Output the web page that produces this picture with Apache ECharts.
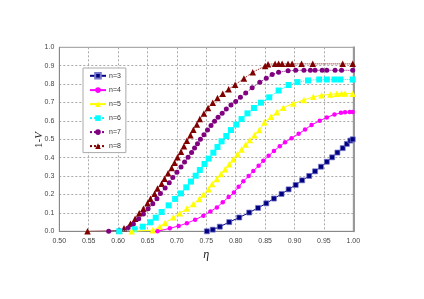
<!DOCTYPE html>
<html><head><meta charset="utf-8">
<script src="https://cdn.jsdelivr.net/npm/echarts@6/dist/echarts.min.js"></script>
<style>html,body{margin:0;padding:0;background:#fff}#c{width:424px;height:299px}</style>
</head><body><div id="c"></div>
<script>
const xTicks = ["0.50","0.55","0.60","0.65","0.70","0.75","0.80","0.85","0.90","0.95","1.00"];
const yTicks = ["0.0","0.1","0.2","0.3","0.4","0.5","0.6","0.7","0.8","0.9","1.0"];
const seriesNames = ["n=3","n=4","n=5","n=6","n=7","n=8"];

const eta3 = [0.751,0.761,0.773,0.789,0.806,0.823,0.838,0.852,0.865,0.878,0.890,0.902,0.913,0.925,0.935,0.945,0.955,0.964,0.973,0.982,0.989,0.995,0.999];
const v3   = [0,0.009,0.025,0.05,0.075,0.102,0.127,0.152,0.178,0.203,0.228,0.252,0.277,0.301,0.326,0.351,0.378,0.402,0.428,0.452,0.475,0.493,0.5];

const eta4 = [0.667,0.688,0.703,0.717,0.731,0.745,0.757,0.768,0.778,0.788,0.797,0.805,0.813,0.822,0.830,0.839,0.847,0.856,0.865,0.875,0.884,0.895,0.907,0.918,0.929,0.943,0.955,0.968,0.979,0.986,0.994,0.999];
const v4   = [0,0.016,0.029,0.044,0.063,0.085,0.108,0.13,0.158,0.186,0.211,0.242,0.272,0.30,0.328,0.356,0.383,0.41,0.437,0.462,0.484,0.506,0.53,0.553,0.578,0.601,0.619,0.635,0.644,0.647,0.648,0.648];

const eta5 = [0.623,0.659,0.671,0.680,0.694,0.705,0.717,0.728,0.738,0.745,0.754,0.760,0.768,0.775,0.782,0.789,0.796,0.803,0.810,0.817,0.824,0.832,0.840,0.849,0.860,0.870,0.881,0.898,0.916,0.932,0.946,0.961,0.972,0.980,0.986,0.999];
const v5   = [0,0.006,0.025,0.045,0.077,0.098,0.124,0.148,0.176,0.200,0.229,0.257,0.284,0.311,0.337,0.364,0.392,0.419,0.445,0.472,0.496,0.522,0.55,0.592,0.622,0.647,0.672,0.695,0.714,0.731,0.739,0.744,0.748,0.749,0.749,0.748];

const eta6 = [0.602,0.628,0.642,0.655,0.664,0.674,0.686,0.697,0.707,0.716,0.724,0.732,0.739,0.747,0.754,0.762,0.769,0.776,0.784,0.792,0.801,0.810,0.820,0.831,0.843,0.857,0.873,0.890,0.905,0.923,0.942,0.955,0.968,0.978,0.999];
const v6   = [0,0.011,0.025,0.049,0.074,0.105,0.141,0.176,0.206,0.239,0.270,0.302,0.333,0.366,0.395,0.427,0.458,0.489,0.518,0.55,0.58,0.61,0.641,0.67,0.699,0.728,0.765,0.795,0.811,0.82,0.825,0.825,0.825,0.825,0.825];

const eta7 = [0.584,0.602,0.617,0.626,0.635,0.643,0.651,0.659,0.666,0.672,0.680,0.687,0.693,0.700,0.707,0.713,0.719,0.725,0.730,0.735,0.740,0.746,0.752,0.758,0.764,0.770,0.777,0.784,0.792,0.800,0.808,0.817,0.828,0.841,0.852,0.862,0.873,0.889,0.902,0.916,0.927,0.935,0.947,0.955,0.969,0.980,0.999];
const v7   = [0,0.005,0.018,0.04,0.068,0.094,0.123,0.15,0.177,0.205,0.235,0.264,0.293,0.321,0.35,0.376,0.402,0.428,0.453,0.476,0.50,0.525,0.55,0.575,0.598,0.62,0.642,0.664,0.686,0.706,0.728,0.752,0.78,0.81,0.832,0.852,0.865,0.872,0.875,0.875,0.875,0.875,0.875,0.875,0.875,0.875,0.875];

const eta8 = [0.548,0.602,0.610,0.621,0.629,0.636,0.643,0.650,0.655,0.662,0.667,0.674,0.679,0.685,0.691,0.696,0.701,0.707,0.712,0.717,0.723,0.728,0.734,0.739,0.746,0.753,0.761,0.769,0.778,0.788,0.799,0.814,0.829,0.850,0.855,0.867,0.873,0.879,0.889,0.896,0.912,0.931,0.982,0.999];
const v8   = [0,0.005,0.016,0.041,0.068,0.098,0.123,0.152,0.177,0.204,0.232,0.259,0.286,0.315,0.344,0.373,0.402,0.432,0.462,0.492,0.522,0.552,0.581,0.61,0.64,0.67,0.698,0.724,0.748,0.772,0.797,0.83,0.865,0.898,0.908,0.91,0.91,0.91,0.91,0.91,0.91,0.91,0.91,0.91];

const etas = [eta3,eta4,eta5,eta6,eta7,eta8];
const vals = [v3,v4,v5,v6,v7,v8];
const colors = ['#000080','#ff00ff','#ffff00','#00ffff','#800080','#800000'];
const symbols = ['rect','circle','triangle','rect','circle','triangle'];
const sizes = [5,4.5,6.5,6,5,6.5];
const lineTypes = ['solid','solid','solid','dotted','dotted','dotted'];
const borders = ['#7777cc',null,null,null,null,null];

const series = seriesNames.map((nm,i)=>({
  name: nm, type:'line',
  data: etas[i].map((x,k)=>[x, vals[i][k]]),
  symbol: symbols[i], symbolSize: sizes[i], showSymbol:true,
  lineStyle:{color:colors[i], width:1, type:lineTypes[i]},
  itemStyle:{color:colors[i], borderColor: borders[i]||colors[i], borderWidth: borders[i]?0.7:0},
  emphasis:{disabled:true}, animation:false, z: 10 - i
}));

const chart = echarts.init(document.getElementById('c'), null, {renderer:'canvas'});
chart.setOption({
  animation:false,
  backgroundColor:'#fff',
  grid:{left:59.3,right:70.7,top:47.3,bottom:67.7,show:true,borderColor:'#999',borderWidth:1},
  legend:{
    data: seriesNames, orient:'vertical', left:83, top:68,
    itemWidth:16, itemHeight:7, itemGap:7,
    padding:[4,5,3,6], borderColor:'#aaa', borderWidth:1, backgroundColor:'#fff',
    textStyle:{fontSize:7, color:'#333', fontFamily:'Liberation Sans, Arial', lineHeight:7, padding:[0,0,0,-2]}
  },
  graphic:[{
    type:'text', x:39, y:140, rotation:Math.PI/2,
    style:{
      text:'{a|1-}{b|V}', align:'center', verticalAlign:'middle',
      rich:{
        a:{fontFamily:'Liberation Serif, Times New Roman', fontSize:11, fill:'#222'},
        b:{fontFamily:'Liberation Serif, Times New Roman', fontSize:11, fontStyle:'italic', fill:'#222'}
      }
    }
  }],
  xAxis:{
    type:'value', min:0.5, max:1.0, interval:0.05,
    name:'η', nameLocation:'middle', nameGap:14,
    nameTextStyle:{fontFamily:'Liberation Serif, Times New Roman', fontStyle:'italic', fontSize:12, color:'#222'},
    axisLine:{lineStyle:{color:'#888',width:1}},
    axisTick:{show:false},
    axisLabel:{fontSize:7, color:'#444', fontFamily:'Liberation Sans, Arial', margin:6,
      formatter:(v)=>{const i=Math.round((v-0.5)/0.05); return xTicks[i]||'';}},
    splitLine:{show:true, lineStyle:{color:'#aaa', type:[2,2], width:1}}
  },
  yAxis:[{
    type:'value', min:0, max:1, interval:0.1,
    axisLine:{show:true, lineStyle:{color:'#888',width:1}},
    axisTick:{show:false},
    axisLabel:{fontSize:7, color:'#444', fontFamily:'Liberation Sans, Arial', margin:5,
      formatter:(v)=>{const i=Math.round(v/0.1); return yTicks[i]||'';}},
    splitLine:{show:true, lineStyle:{color:'#aaa', type:[2,2], width:1}}
  },{
    type:'value', min:0, max:1, position:'right',
    axisLine:{show:true, lineStyle:{color:'#999',width:2}},
    axisTick:{show:false}, axisLabel:{show:false}, splitLine:{show:false}
  }],
  series: series
});
</script></body></html>
